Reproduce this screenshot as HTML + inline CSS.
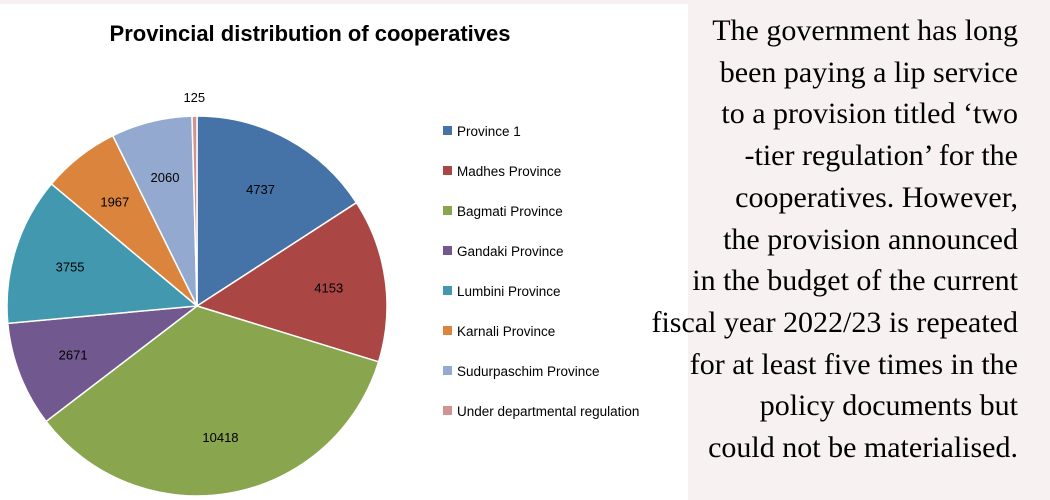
<!DOCTYPE html>
<html><head><meta charset="utf-8"><style>
html,body{margin:0;padding:0;background:#f7f1f1;width:1050px;height:500px;overflow:hidden}
#chart{position:absolute;left:0;top:4px;width:688px;height:496px;background:#fff}
#txt{position:absolute;right:32px;top:10px;width:440px;text-align:right;font-family:"Liberation Serif",serif;font-size:30px;line-height:41.7px;color:#000}
</style></head><body>
<svg id="chart" width="688" height="496" viewBox="0 4 688 496" xmlns="http://www.w3.org/2000/svg">
<text x="310" y="41" text-anchor="middle" font-family="Liberation Sans, sans-serif" font-weight="bold" font-size="22">Provincial distribution of cooperatives</text>
<g id="slices"></g><g id="labels"></g><g id="legend"></g>
</svg>
<div id="txt">The government has long<br>been paying a lip service<br>to a provision titled ‘two<br>-tier regulation’ for the<br>cooperatives. However,<br>the provision announced<br>in the budget of the current<br>fiscal year 2022/23 is repeated<br>for at least five times in the<br>policy documents but<br>could not be materialised.</div>
<script>
const categories=["Province 1","Madhes Province","Bagmati Province","Gandaki Province","Lumbini Province","Karnali Province","Sudurpaschim Province","Under departmental regulation"];
const values=[4737,4153,10418,2671,3755,1967,2060,125];
const colors=["#4572a7","#aa4643","#89a54e","#71588f","#4198af","#db843d","#93a9cf","#d19392"];
const NS="http://www.w3.org/2000/svg";
const cx=197,cy=306,r=190;
const total=values.reduce((a,b)=>a+b,0);
const sg=document.getElementById('slices'),lg=document.getElementById('labels'),leg=document.getElementById('legend');
function pt(a,rr){return [cx+rr*Math.sin(a),cy-rr*Math.cos(a)];}
let acc=0;
values.forEach((v,i)=>{
  const a0=acc/total*2*Math.PI;acc+=v;const a1=acc/total*2*Math.PI;
  const p0=pt(a0,r),p1=pt(a1,r);
  const p=document.createElementNS(NS,'path');
  p.setAttribute('d',`M${cx},${cy}L${p0[0]},${p0[1]}A${r},${r} 0 ${a1-a0>Math.PI?1:0} 1 ${p1[0]},${p1[1]}Z`);
  p.setAttribute('fill',colors[i]);p.setAttribute('stroke','#fff');p.setAttribute('stroke-width','1.5');
  
  
  sg.appendChild(p);
  const am=(a0+a1)/2;const small=v/total<0.02;
  const lp=pt(am,small?r+14:r*0.7);
  const t=document.createElementNS(NS,'text');
  t.setAttribute('x',lp[0]);t.setAttribute('y',lp[1]+(small?0:5));
  t.setAttribute('text-anchor','middle');t.setAttribute('font-family','Liberation Sans, sans-serif');t.setAttribute('font-size','13');
  t.textContent=v;
  
  
  lg.appendChild(t);
  const y=131+i*40;
  const s=document.createElementNS(NS,'rect');
  s.setAttribute('x',443);s.setAttribute('y',y-5);s.setAttribute('width',9);s.setAttribute('height',9);s.setAttribute('fill',colors[i]);
  
  
  leg.appendChild(s);
  const lt=document.createElementNS(NS,'text');
  lt.setAttribute('x',457);lt.setAttribute('y',y+5);lt.setAttribute('font-family','Liberation Sans, sans-serif');lt.setAttribute('font-size','13.5');
  lt.textContent=categories[i];
  
  
  leg.appendChild(lt);
});
</script>
</body></html>
